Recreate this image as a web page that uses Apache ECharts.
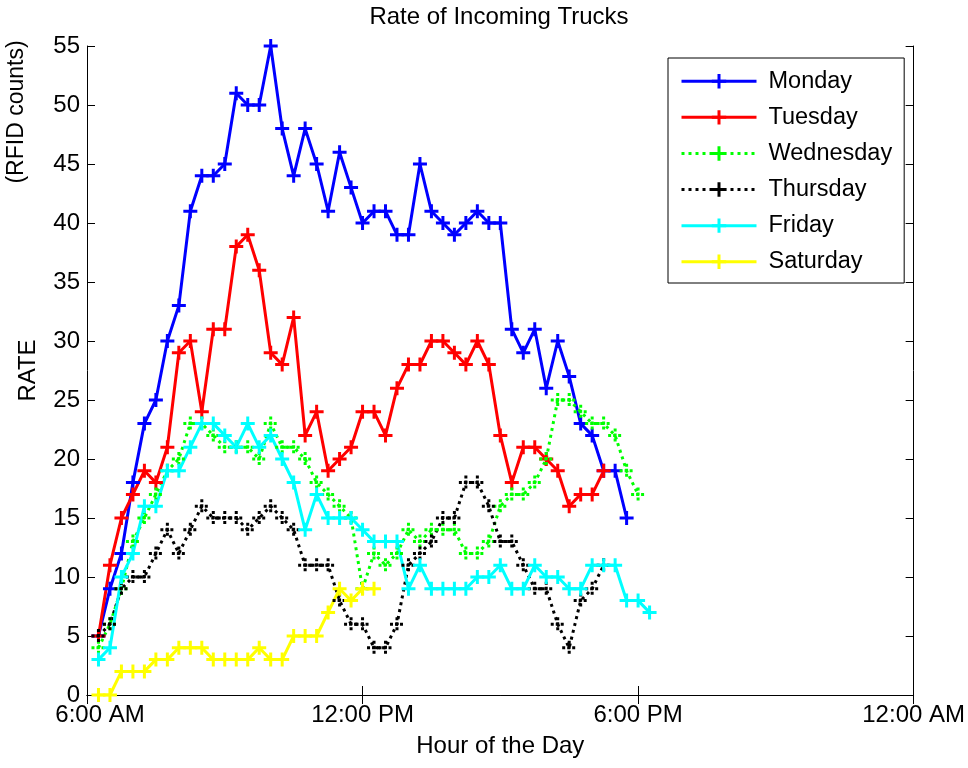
<!DOCTYPE html>
<html>
<head>
<meta charset="utf-8">
<script src="https://cdn.jsdelivr.net/npm/echarts@6/dist/echarts.min.js"></script>
<style>
html,body{margin:0;padding:0;background:#fff;}
#chart{width:968px;height:768px;}
</style>
</head>
<body>
<div id="chart"></div>
<script>
// ---- data (RFID counts every 15 minutes, starting 6:15 AM) ----
const startHour = 6.25;
const stepHours = 0.25;
const dayNames = ['Monday','Tuesday','Wednesday','Thursday','Friday','Saturday'];
const monday    = [5,9,12,18,23,25,30,33,41,44,44,45,51,50,50,55,48,44,48,45,41,46,43,40,41,41,39,39,45,41,40,39,40,41,40,40,31,29,31,26,30,27,23,22,19,19,15];
const tuesday   = [5,11,15,17,19,18,21,29,30,24,31,31,38,39,36,29,28,32,22,24,19,20,21,24,24,22,26,28,28,30,30,29,28,30,28,22,18,21,21,20,19,16,17,17,19];
const wednesday = [4,6,9,13,15,17,19,20,23,23,22,21,21,21,20,23,21,21,20,18,17,16,15,9,12,11,12,14,13,14,14,14,12,12,13,16,17,17,18,20,25,25,24,23,23,22,19,17];
const thursday  = [5,6,9,10,10,12,14,12,14,16,15,15,15,14,15,16,15,14,11,11,11,8,6,6,4,4,6,11,12,13,15,15,18,18,16,13,13,11,9,9,6,4,8,9,11];
const friday    = [3,4,10,12,16,16,19,19,21,23,23,22,21,23,21,22,20,18,14,17,15,15,15,14,13,13,13,9,11,9,9,9,9,10,10,11,9,9,11,10,10,9,9,11,11,11,8,8,7];
const saturday  = [0,0,2,2,2,3,3,4,4,4,3,3,3,3,4,3,3,5,5,5,7,9,8,9,9];
const xTickValues = [6,12,18,24];
const xTickLabels = ['6:00 AM','12:00 PM','6:00 PM','12:00 AM'];
const yTicks = [0,5,10,15,20,25,30,35,40,45,50,55];

const allValues = [monday,tuesday,wednesday,thursday,friday,saturday];
const colors = ['#0000ff','#ff0000','#00ff00','#000000','#00ffff','#ffff00'];
const dotted = [false,false,true,true,false,false];

const FONT = 'Liberation Sans';
const plusPath = 'path://M0,7L14,7M7,0L7,14';

const series = allValues.map((vals, k) => ({
  name: dayNames[k],
  type: 'line',
  xAxisIndex: 0, yAxisIndex: 0,
  data: vals.map((v, i) => [startHour + i * stepHours, v]),
  symbol: plusPath,
  symbolSize: 14,
  showAllSymbol: true,
  lineStyle: { color: colors[k], width: 3, type: dotted[k] ? [3,4] : 'solid', cap: 'butt' },
  itemStyle: { color: 'none', borderColor: colors[k], borderWidth: 3, borderType: dotted[k] ? [3,2] : 'solid' },
  emphasis: { disabled: true },
  animation: false
}));

const chart = echarts.init(document.getElementById('chart'), null, { renderer: 'canvas' });
const axisCommon = {
  axisLine: { show: true, lineStyle: { color: '#000', width: 1 } },
  splitLine: { show: false }
};
chart.setOption({
  backgroundColor: '#fff',
  animation: false,
  textStyle: { fontFamily: FONT },
  grid: { left: 87, right: 53, top: 46, bottom: 73, containLabel: false },
  graphic: [
    { type: 'text', style: { x: 499, y: 17, text: 'Rate of Incoming Trucks', font: '24px ' + FONT, fill: '#000', textAlign: 'center', textVerticalAlign: 'middle' } },
    { type: 'text', rotation: Math.PI / 2, x: 17, y: 112, style: { x: 0, y: 0, text: '(RFID counts)', font: '23px ' + FONT, fill: '#000', textAlign: 'center', textVerticalAlign: 'middle' } }
  ],
  legend: {
    orient: 'vertical',
    left: 668, top: 58,
    data: dayNames,
    itemWidth: 75, itemHeight: 18, itemGap: 12.1,
    padding: [11.25, 12, 9.25, 12],
    backgroundColor: '#fff', borderColor: '#000', borderWidth: 1,
    lineStyle: { width: 3 },
    itemStyle: { borderWidth: 3 },
    textStyle: { fontFamily: FONT, fontSize: 23.5, color: '#000', padding: [0,0,0,7] },
    selectedMode: false
  },
  xAxis: [
    Object.assign({
      type: 'value', position: 'bottom', min: 6, max: 24, interval: 6,
      name: 'Hour of the Day', nameLocation: 'middle', nameGap: 39,
      nameTextStyle: { fontFamily: FONT, fontSize: 24, color: '#000' },
      axisTick: { show: true, inside: true, length: 9, lineStyle: { color: '#000' } },
      axisLabel: {
        show: true, margin: 8, color: '#000', fontFamily: FONT, fontSize: 24,
        formatter: function (v) {
          const idx = xTickValues.indexOf(v);
          if (idx === 0) return '{first|' + xTickLabels[0] + '}';
          return idx >= 0 ? xTickLabels[idx] : '';
        },
        rich: { first: { fontFamily: FONT, fontSize: 24, color: '#000', padding: [0, 0, 0, 26] } }
      }
    }, axisCommon),
    Object.assign({
      type: 'value', position: 'top', min: 6, max: 24, interval: 6,
      axisTick: { show: true, inside: true, length: 9, lineStyle: { color: '#000' } },
      axisLabel: { show: false }
    }, axisCommon)
  ],
  yAxis: [
    Object.assign({
      type: 'value', position: 'left', min: 0, max: 55, interval: 5,
      name: 'RATE', nameLocation: 'middle', nameGap: 47,
      nameTextStyle: { fontFamily: FONT, fontSize: 24, color: '#000' },
      axisTick: { show: true, inside: true, length: 8, lineStyle: { color: '#000' } },
      axisLabel: { show: true, margin: 7, color: '#000', fontFamily: FONT, fontSize: 24,
        formatter: function (v) { return yTicks.indexOf(v) >= 0 ? String(v) : ''; } }
    }, axisCommon),
    Object.assign({
      type: 'value', position: 'right', min: 0, max: 55, interval: 5,
      axisTick: { show: true, inside: true, length: 8, lineStyle: { color: '#000' } },
      axisLabel: { show: false }
    }, axisCommon)
  ],
  series: series
});
</script>
</body>
</html>
